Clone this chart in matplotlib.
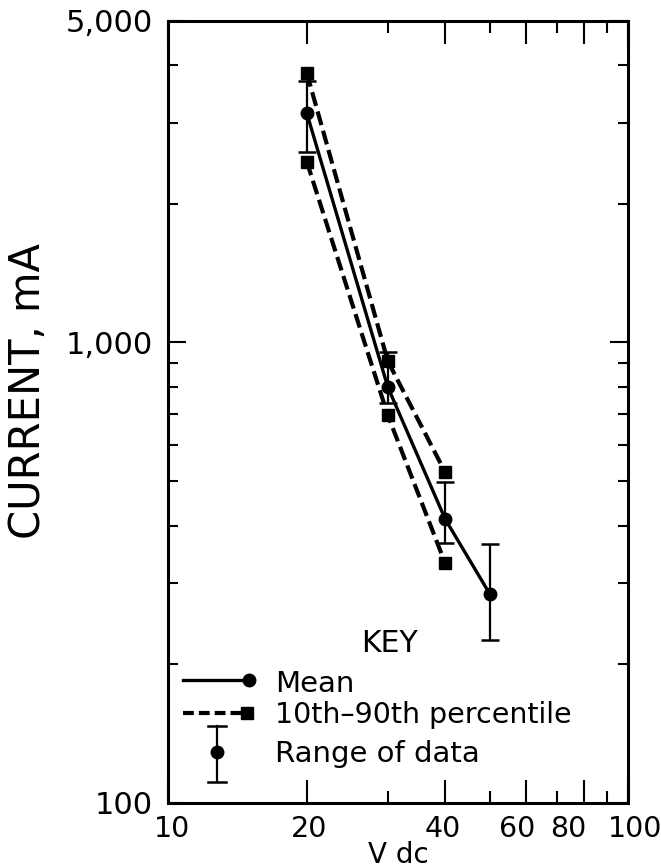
import matplotlib
matplotlib.use("Agg")
import matplotlib.pyplot as plt
from matplotlib.lines import Line2D
import numpy as np

plt.rcParams['font.family'] = ['DejaVu Sans']

# ---- data ----
voltage = [20, 30, 40, 50]
mean_current = [3150, 800, 413, 284]
range_low = [2590, 737, 366, 226]
range_high = [3700, 952, 497, 365]

pct_voltage = [20, 30, 40]
pct90 = [3850, 911, 522]
pct10 = [2470, 695, 331]

x_major = [10, 20, 40, 60, 80, 100]
x_major_labels = ['10', '20', '40', '60', '80', '100']
x_minor = [30, 50, 70, 90]
y_major = [100, 1000, 5000]
y_major_labels = ['100', '1,000', '5,000']
y_minor = [200, 300, 400, 500, 600, 700, 800, 900, 2000, 3000, 4000]

# hand-lettered label nudges (points) seen in the reference
x_label_nudge = [3, 1.5, -1.5, -6.5, -11, 5]

fig = plt.figure(figsize=(6.61, 8.68), dpi=100)
ax = fig.add_axes([168.3 / 661, (868 - 802.7) / 868, 460 / 661, 782 / 868])

ax.set_xscale('log')
ax.set_yscale('log')
ax.set_xlim(10, 100)
ax.set_ylim(100, 5000)

dash = (3.4, 1.4)
# percentile lines
ax.plot(pct_voltage, pct90, color='black', lw=3, dashes=dash,
        marker='s', ms=9, zorder=3)
ax.plot(pct_voltage, pct10, color='black', lw=3, dashes=dash,
        marker='s', ms=9, zorder=3)
# mean line
ax.plot(voltage, mean_current, color='black', lw=2.4, marker='o', ms=9, zorder=4)
# range error bars
m = np.array(mean_current)
yerr = [m - np.array(range_low), np.array(range_high) - m]
ax.errorbar(voltage, mean_current, yerr=yerr, fmt='none', ecolor='black',
            elinewidth=1.6, capsize=6.5, capthick=1.8, zorder=2)

# ticks
ax.set_xticks(x_major)
ax.set_xticklabels([])
ax.set_xticks(x_minor, minor=True)
ax.set_xticklabels([], minor=True)
ax.set_yticks(y_major)
ax.set_yticklabels(y_major_labels)
ax.set_yticks(y_minor, minor=True)
ax.set_yticklabels([], minor=True)

for v, lab, dx in zip(x_major, x_major_labels, x_label_nudge):
    ax.annotate(lab, xy=(v, 0), xycoords=('data', 'axes fraction'),
                xytext=(dx, -8.5), textcoords='offset points',
                ha='center', va='top', fontsize=20.5)

ax.tick_params(axis='both', which='both', direction='in', top=True, right=True,
               color='black', width=1.5)
ax.tick_params(axis='x', which='major', length=16.5)
ax.tick_params(axis='x', which='minor', length=8.6)
ax.tick_params(axis='y', which='major', length=13, pad=11, labelsize=22)
ax.tick_params(axis='y', which='minor', length=7)

for s in ax.spines.values():
    s.set_linewidth(2.2)

ax.set_xlabel('V dc', fontsize=20, va='center')
ax.xaxis.set_label_coords(0.5, -0.0665)
ax.set_ylabel('CURRENT, mA', fontsize=30, va='center')
ax.yaxis.set_label_coords(-0.305, 0.5265)

# ---- key (legend) ----
T = ax.transAxes
ax.text(0.48, 0.2042, 'KEY', transform=T, fontsize=21.5, ha='center', va='center')
# mean entry
ax.add_line(Line2D([0.032, 0.175], [0.1569, 0.1569], transform=T, color='black', lw=2.4))
ax.add_line(Line2D([0.175], [0.1569], transform=T, color='black', marker='o', ms=9, lw=0))
ax.text(0.2315, 0.1415, 'Mean', transform=T, fontsize=21, ha='left', va='baseline')
# percentile entry
ax.add_line(Line2D([0.032, 0.171], [0.1147, 0.1147], transform=T, color='black', lw=3, dashes=(2.6, 1.2)))
ax.add_line(Line2D([0.171], [0.1147], transform=T, color='black', marker='s', ms=9, lw=0))
ax.text(0.2315, 0.1019, '10th\u201390th percentile', transform=T, fontsize=20.5,
        ha='left', va='baseline')
# range entry
ax.add_line(Line2D([0.106, 0.106], [0.0265, 0.0981], transform=T, color='black', lw=1.6))
ax.add_line(Line2D([0.086, 0.126], [0.0981, 0.0981], transform=T, color='black', lw=1.8))
ax.add_line(Line2D([0.086, 0.126], [0.0265, 0.0265], transform=T, color='black', lw=1.8))
ax.add_line(Line2D([0.106], [0.0648], transform=T, color='black', marker='o', ms=9, lw=0))
ax.text(0.2315, 0.0521, 'Range of data', transform=T, fontsize=21, ha='left', va='baseline')

fig.savefig('out.png', dpi=100)
